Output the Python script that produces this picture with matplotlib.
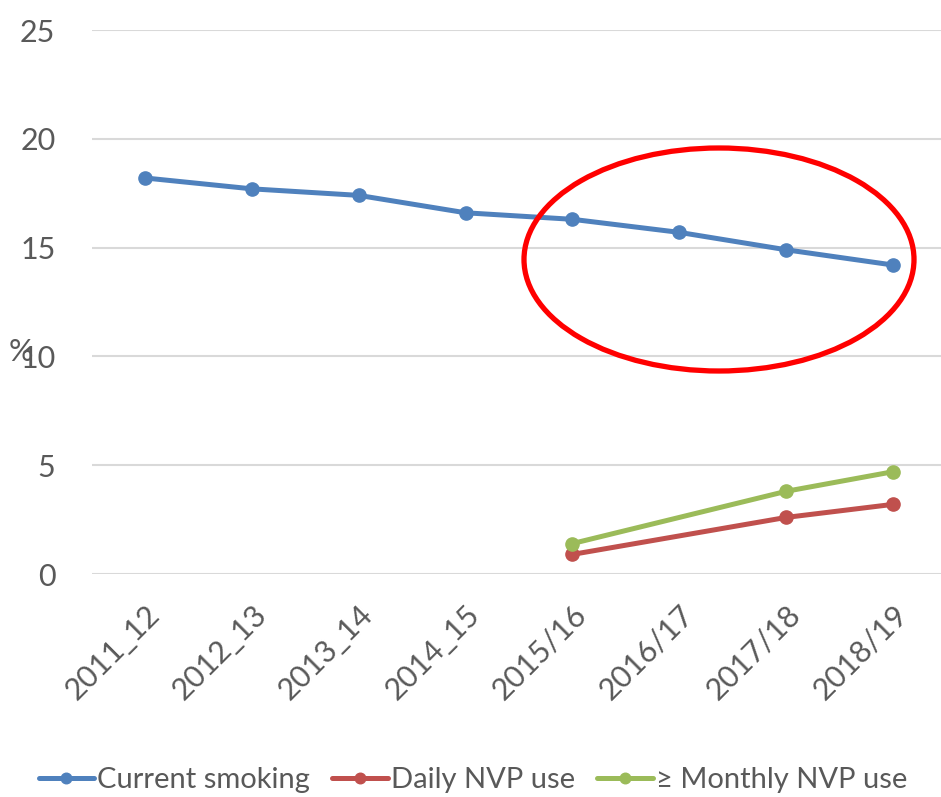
import matplotlib
matplotlib.use("Agg")
import matplotlib.pyplot as plt
from matplotlib.patches import Ellipse
import numpy as np

categories = ["2011_12", "2012_13", "2013_14", "2014_15", "2015/16", "2016/17", "2017/18", "2018/19"]
current_smoking = [18.2, 17.7, 17.4, 16.6, 16.3, 15.7, 14.9, 14.2]
daily_nvp = [np.nan, np.nan, np.nan, np.nan, 0.9, np.nan, 2.6, 3.2]
monthly_nvp = [np.nan, np.nan, np.nan, np.nan, 1.4, np.nan, 3.8, 4.7]
y_ticks = [0, 5, 10, 15, 20, 25]

plt.rcParams['font.family'] = ['Lato', 'DejaVu Sans']
txt = '#595959'
fs = 22

fig = plt.figure(figsize=(9.41, 7.97), dpi=100)
ax = fig.add_axes([91.6/941, 1-574/797, (946.4-91.6)/941, (574-30)/797])

x = np.arange(len(categories))
series = [
    (current_smoking, '#4F81BD', 'Current smoking'),
    (daily_nvp, '#C0504D', 'Daily NVP use'),
    (monthly_nvp, '#9BBB59', '\u2265 Monthly NVP use'),
]
for vals, col, lab in series:
    v = np.array(vals, dtype=float)
    m = ~np.isnan(v)
    ax.plot(x[m], v[m], color=col, lw=3.6, marker='o', ms=9.5, label=lab,
            solid_capstyle='round', zorder=3)

ax.set_xlim(-0.5, len(categories) - 0.5)
ax.set_ylim(0, 25)
ax.set_yticks(y_ticks)
ax.set_xticks(x)
ax.set_xticklabels(categories, rotation=45, ha='right', rotation_mode='anchor')
ax.tick_params(axis='both', length=0, colors=txt, labelsize=fs)
ax.tick_params(axis='y', pad=26)
ax.tick_params(axis='x', pad=19)
ax.grid(axis='y', color='#d9d9d9', lw=1.5, zorder=0)
for s in ax.spines.values():
    s.set_visible(False)
ax.set_axisbelow(True)

fig.text(21/941, 1-352/797, '%', fontsize=fs, color=txt, ha='center', va='center')

fig.legend(loc='center', bbox_to_anchor=(473/941, 1-780/797), ncol=3, frameon=False,
           fontsize=21, labelcolor=txt, handlelength=1.9, handletextpad=0.12,
           columnspacing=0.75, borderaxespad=0, borderpad=0, markerscale=0.8)

ell = Ellipse((719/941, 1-259.5/797), 390/941, 223/797, transform=fig.transFigure,
              fill=False, edgecolor='#FF0000', lw=3.8, zorder=10)
fig.patches.append(ell)

fig.savefig('out.png', dpi=100)
